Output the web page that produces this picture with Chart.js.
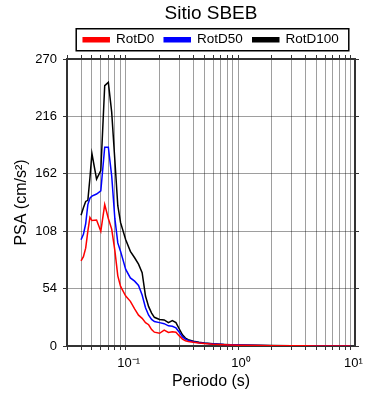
<!DOCTYPE html>
<html>
<head>
<meta charset="utf-8">
<script src="https://cdn.jsdelivr.net/npm/chart.js@4.4.1/dist/chart.umd.min.js"></script>
<style>
	html, body { margin: 0; padding: 0; background: #fff; }
</style>
</head>
<body>
<canvas id="psaChart" width="390" height="400"></canvas>
<script>
// Periods (s) and spectral values (cm/s2)
const periods = [0.04, 0.042, 0.044, 0.046, 0.048, 0.05, 0.055, 0.06, 0.065, 0.07, 0.075, 0.08, 0.085, 0.09,
	0.1, 0.11, 0.12, 0.13, 0.14, 0.15, 0.16, 0.17, 0.18, 0.2, 0.22, 0.24, 0.26, 0.28, 0.3, 0.32, 0.34, 0.36,
	0.4, 0.45, 0.5, 0.6, 0.75, 1, 1.5, 2, 3, 4, 5, 7.5, 10];

const rotD0 = [80, 84, 92, 108, 121, 118, 118.5, 108, 133, 120, 110, 90, 66, 56,
	47, 42, 35, 29, 26, 22, 20, 15.5, 13, 12, 15, 12.8, 13.5, 13, 9.5, 6.5, 5, 4.3,
	3.5, 2.8, 2.3, 1.7, 1.2, 0.8, 0.45, 0.3, 0.18, 0.12, 0.08, 0.05, 0.03];

const rotD50 = [100, 105, 115, 133, 139, 141, 143, 146, 187, 187, 160, 120, 97, 89,
	72, 64, 61, 57, 48, 36, 29, 25, 23, 22, 21, 19, 18.5, 17, 13, 8.5, 6.5, 5.3,
	4, 3.1, 2.5, 1.9, 1.3, 0.9, 0.5, 0.35, 0.2, 0.13, 0.09, 0.055, 0.035];

const rotD100 = [123, 130, 136, 137, 158, 181, 157, 165, 245, 248, 220, 175, 132, 116,
	100, 89, 83, 77, 69, 47, 37, 31, 27, 25, 24.5, 22, 24, 22, 16, 10.5, 7.5, 6,
	4.5, 3.5, 2.8, 2.1, 1.5, 1.0, 0.6, 0.4, 0.25, 0.15, 0.1, 0.06, 0.04];

const seriesNames = ['RotD0', 'RotD50', 'RotD100'];
const seriesColors = ['#ff0000', '#0000ff', '#000000'];

// axis ticks
const xGridValues = [0.03, 0.04, 0.05, 0.06, 0.07, 0.08, 0.09,
	0.1, 0.2, 0.3, 0.4, 0.5, 0.6, 0.7, 0.8, 0.9,
	1, 2, 3, 4, 5, 6, 7, 8, 9, 10];
const xMajorValues = [0.1, 1, 10];
const xMajorLabels = ['10\u207B\u00B9', '10\u2070', '10\u00B9'];
const yTickStep = 54;
const yMax = 270;

Chart.defaults.font.family = '"Liberation Sans", Arial, sans-serif';
Chart.defaults.color = '#000';

const toPoints = vals => periods.map((p, i) => ({ x: p, y: vals[i] }));
const allSeries = [rotD0, rotD50, rotD100];

const gridColor = 'rgba(0,0,0,0.38)';
const frameColor = '#333';

// box around the legend, like the original figure
const legendFrame = {
	id: 'legendFrame',
	afterDraw(chart) {
		const boxes = chart.legend && chart.legend.legendHitBoxes;
		if (!boxes || !boxes.length) return;
		const left = Math.min(...boxes.map(b => b.left));
		const right = Math.max(...boxes.map(b => b.left + b.width));
		const cy = boxes[0].top + boxes[0].height / 2;
		const c = chart.ctx;
		c.save();
		c.strokeStyle = '#000';
		c.lineWidth = 1.5;
		c.strokeRect(left - 7, cy - 11, right - left + 17, 22);
		c.restore();
	}
};

const setXTicks = s => { s.ticks = xGridValues.map(v => ({ value: v })); };

const ctx = document.getElementById('psaChart').getContext('2d');
new Chart(ctx, {
	type: 'line',
	data: {
		datasets: allSeries.map((vals, i) => ({
			label: seriesNames[i],
			data: toPoints(vals),
			borderColor: seriesColors[i],
			backgroundColor: seriesColors[i],
			borderWidth: 1.5,
			pointRadius: 0,
			tension: 0,
			fill: false,
			xAxisID: 'x',
			yAxisID: 'y'
		}))
	},
	options: {
		responsive: false,
		animation: false,
		layout: { padding: 0 },
		plugins: {
			title: {
				display: true,
				text: 'Sitio SBEB',
				fullSize: false,
				color: '#000',
				font: { size: 19, weight: 'normal', lineHeight: 1.0 },
				padding: { top: 4, bottom: 0 }
			},
			legend: {
				display: true,
				fullSize: false,
				labels: {
					boxWidth: 26,
					boxHeight: 4,
					padding: 10,
					color: '#000',
					font: { size: 13.5 }
				}
			},
			tooltip: { enabled: false }
		},
		scales: {
			x: {
				type: 'logarithmic',
				position: 'bottom',
				min: 0.03,
				max: 11,
				afterBuildTicks: setXTicks,
				afterFit: s => { s.height = 54; },
				ticks: {
					autoSkip: false,
					maxRotation: 0,
					padding: 6,
					labelOffset: 3,
					color: '#000',
					font: { size: 13 },
					callback: v => {
						const i = xMajorValues.indexOf(v);
						return i >= 0 ? xMajorLabels[i] : '';
					}
				},
				grid: { color: gridColor, lineWidth: 1, tickLength: 4, tickColor: frameColor },
				border: { display: true, color: frameColor, width: 2 },
				title: {
					display: true,
					text: 'Periodo (s)',
					color: '#000',
					font: { size: 16 },
					padding: { top: 0, bottom: 9 }
				}
			},
			x2: {
				type: 'logarithmic',
				position: 'top',
				min: 0.03,
				max: 11,
				afterBuildTicks: setXTicks,
				afterFit: s => {
					const used = (s.chart.titleBlock ? s.chart.titleBlock.height : 0) +
						(s.chart.legend ? s.chart.legend.height : 0);
					s.height = Math.max(0, 59 - used);
				},
				ticks: { display: false },
				grid: { drawOnChartArea: false, tickLength: 4, tickColor: frameColor },
				border: { display: true, color: frameColor, width: 2 }
			},
			y: {
				type: 'linear',
				position: 'left',
				min: 0,
				max: yMax,
				afterFit: s => { s.width = 67; },
				ticks: {
					stepSize: yTickStep,
					padding: 6,
					color: '#000',
					font: { size: 13 }
				},
				grid: { color: gridColor, lineWidth: 1, tickLength: 4, tickColor: frameColor },
				border: { display: true, color: frameColor, width: 2 },
				title: {
					display: true,
					text: 'PSA (cm/s\u00B2)',
					color: '#000',
					font: { size: 16 },
					padding: { top: 12, bottom: 0 }
				}
			},
			y2: {
				type: 'linear',
				position: 'right',
				min: 0,
				max: yMax,
				afterFit: s => { s.width = 35; },
				ticks: { display: false, stepSize: yTickStep },
				grid: { drawOnChartArea: false, tickLength: 4, tickColor: frameColor },
				border: { display: true, color: frameColor, width: 2 }
			}
		}
	},
	plugins: [legendFrame]
});
</script>
</body>
</html>
